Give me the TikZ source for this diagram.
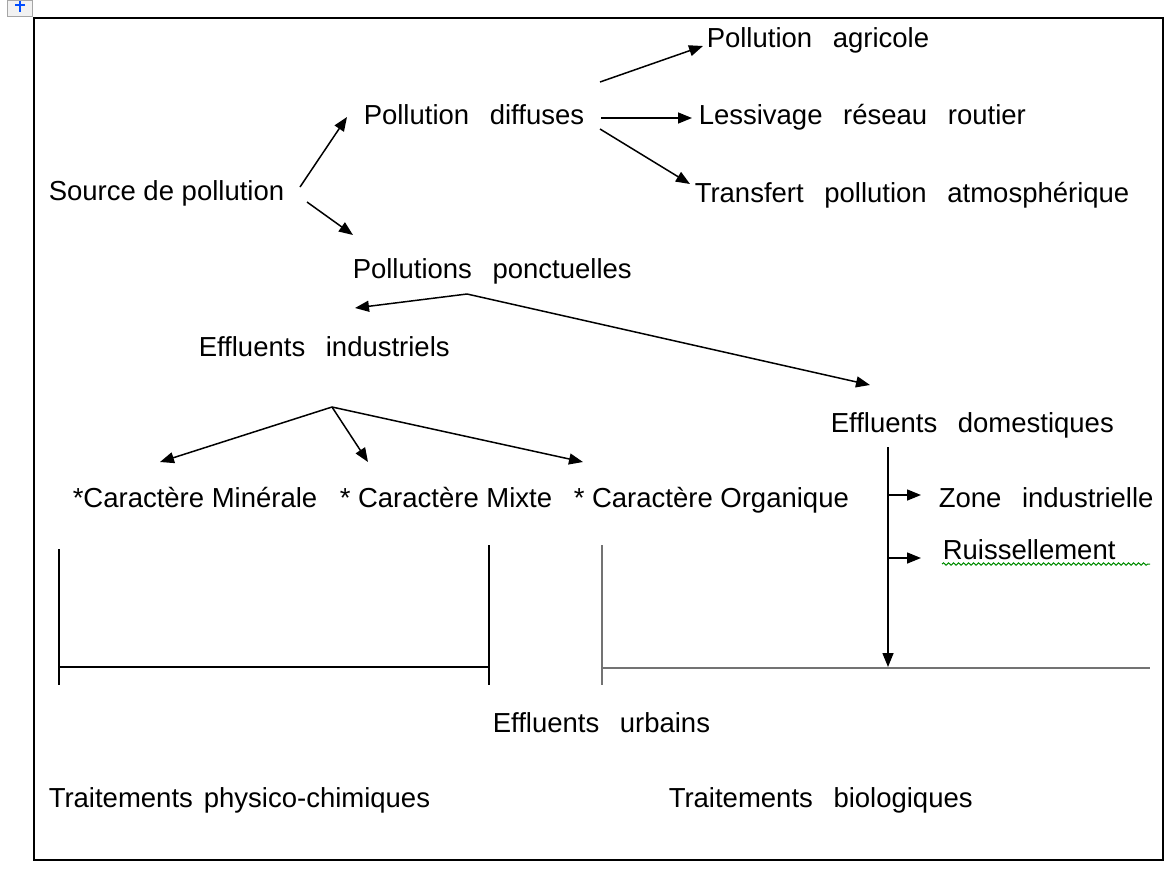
\documentclass[tikz,border=0pt]{standalone}
\usepackage{fontspec}
\setmainfont{Liberation Sans}
\usepackage{xcolor}
\usepackage{tikz}
\usetikzlibrary{arrows.meta, decorations.pathmorphing}

\newcommand{\gap}{\hspace{0.75em}}

\begin{document}
\begin{tikzpicture}[x=0.5pt, y=-0.5pt, >={Triangle[length=7pt, width=5.5pt]}, line width=0.75pt,
    lbl/.style={anchor=base west, inner sep=0pt, font=\fontsize{13.75}{16}\selectfont},
    greyline/.style={draw=black!55, line width=1pt}]
    \useasboundingbox (0,0) rectangle (1166,868);
    % anchor icon and frame
    \draw[black!35, fill=black!5, line width=0.5pt] (7,0) rectangle (32,16);
    \draw[blue!70!cyan, line width=1.2pt] (15,5) -- (25,5) (20,1) -- (20,12);
    \draw[black, line width=1pt] (34,18) rectangle (1163,860);

    \node[lbl] (src) at (48,200) {Source de pollution};
    \node[lbl] (diff) at (363,124) {Pollution\gap diffuses};
    \node[lbl] (agri) at (706,47) {Pollution\gap agricole};
    \node[lbl] (less) at (698,124) {Lessivage\gap réseau\gap routier};
    \node[lbl] (transf) at (694,202) {Transfert\gap pollution\gap atmosphérique};
    \node[lbl] (ponct) at (352,278) {Pollutions\gap ponctuelles};
    \node[lbl] (indus) at (198,356) {Effluents\gap industriels};
    \node[lbl] (domes) at (830,432) {Effluents\gap domestiques};
    \node[lbl] (miner) at (72,507) {*Caractère Minérale};
    \node[lbl] (mixte) at (339,507) {* Caractère Mixte};
    \node[lbl] (organ) at (573,507) {* Caractère Organique};
    \node[lbl] (zone) at (938,507) {Zone\gap industrielle};
    \node[lbl] (ruiss) at (942,559) {Ruissellement};
    \node[lbl] (urbain) at (492,732) {Effluents\gap urbains};
    \node[lbl] (physchim) at (48,807) {Traitements\hspace{0.4em}physico-chimiques};
    \node[lbl] (bio) at (668,807) {Traitements\gap biologiques};

    % arrow ends
    \coordinate (srcUp) at (300,187);
    \coordinate (srcDn) at (307,202);
    \coordinate (diffIn) at (347,117);
    \coordinate (ponctIn) at (353,235);
    \coordinate (diffA) at (600,82);
    \coordinate (diffB) at (601,118);
    \coordinate (diffC) at (600,129);
    \coordinate (agriIn) at (703,46);
    \coordinate (lessIn) at (692,118);
    \coordinate (transfIn) at (690,184);
    \coordinate (ponctTop) at (467,294);
    \coordinate (indusIn) at (355,308);
    \coordinate (domesIn) at (870,385);
    \coordinate (indusTop) at (332,407);
    \coordinate (minerIn) at (160,462);
    \coordinate (mixteIn) at (368,462);
    \coordinate (organIn) at (583,462);
    \coordinate (domesOut) at (888,447);
    \coordinate (domesEnd) at (888,667);
    \coordinate (zoneFrom) at (888,495);
    \coordinate (zoneIn) at (921,495);
    \coordinate (ruissFrom) at (888,558);
    \coordinate (ruissIn) at (921,558);

    \foreach \a/\b in {srcUp/diffIn, srcDn/ponctIn, diffA/agriIn, diffB/lessIn, diffC/transfIn,
        ponctTop/indusIn, ponctTop/domesIn, indusTop/minerIn, indusTop/mixteIn, indusTop/organIn,
        domesOut/domesEnd, zoneFrom/zoneIn, ruissFrom/ruissIn}
        \draw[->] (\a) -- (\b);

    % brackets towards the treatments
    \draw (59,549) -- (59,685) (59,667) -- (489,667) (489,545) -- (489,685);
    \draw[greyline] (602,545) -- (602,685) (602,668) -- (1150,668);

    % spell-check underline
    \draw[green!55!black, line width=0.5pt, decorate,
        decoration={snake, amplitude=0.6pt, segment length=2.5pt}] (942,564) -- (1150,564);
\end{tikzpicture}
\end{document}
